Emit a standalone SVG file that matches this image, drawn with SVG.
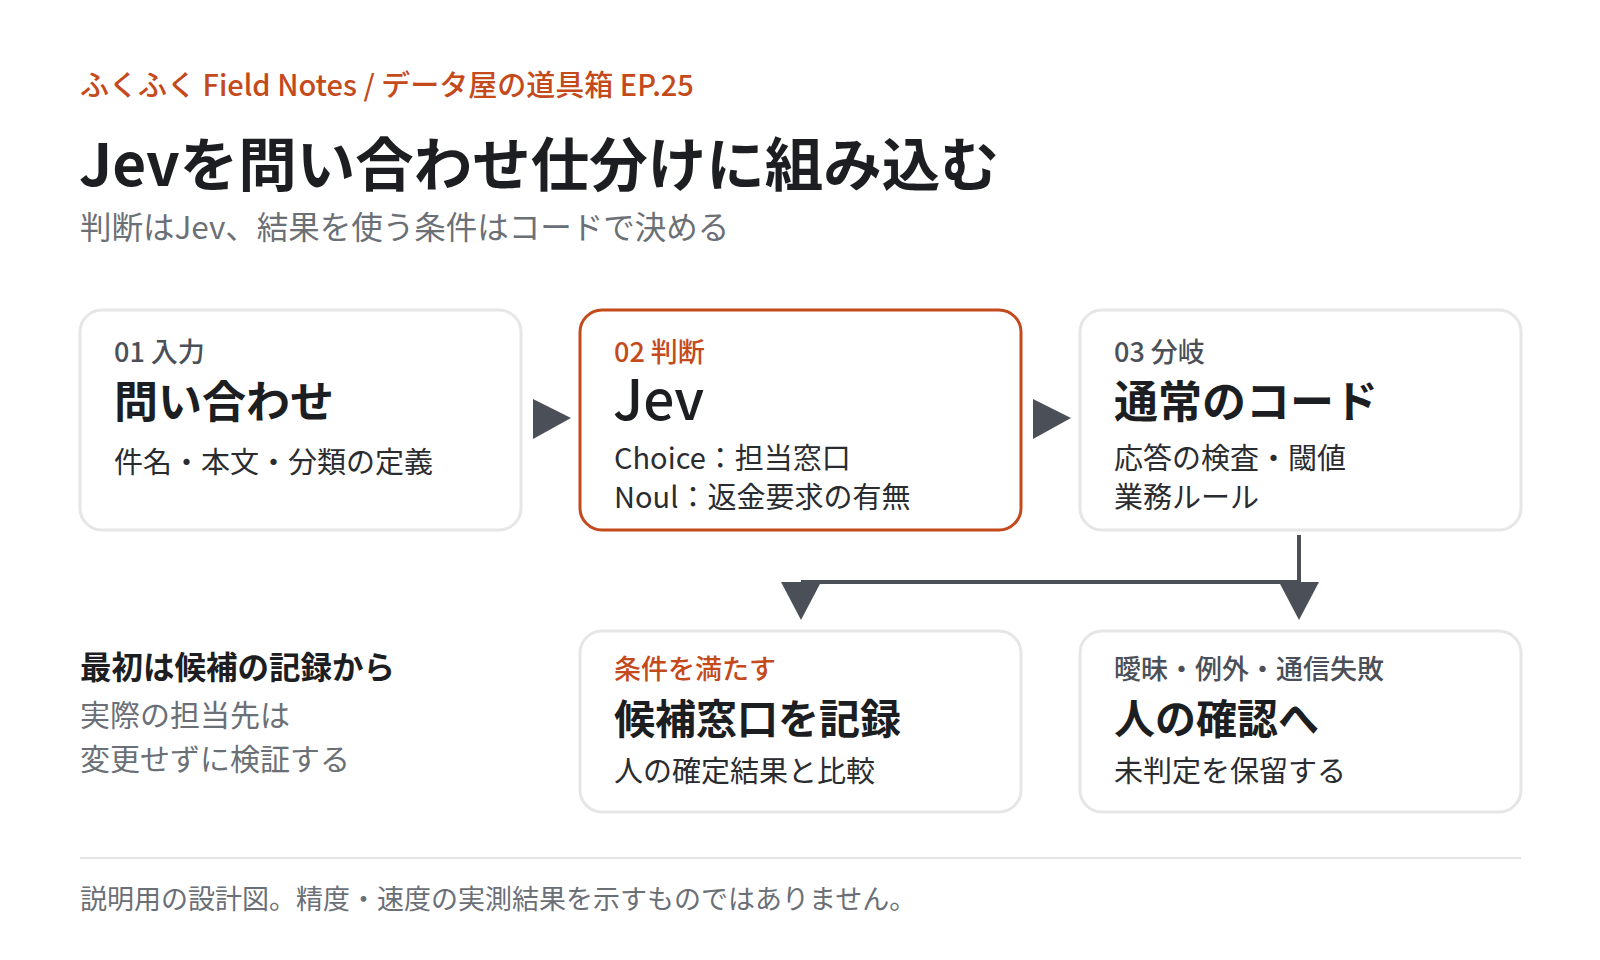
<svg xmlns="http://www.w3.org/2000/svg" width="1600" height="960" viewBox="0 0 1600 960">
<style>
text{font-family:"Noto Sans CJK JP","Noto Sans",sans-serif}
.box{fill:#fff;stroke:#e6e6e6;stroke-width:3}
.hl{fill:#fff;stroke:#c44a1c;stroke-width:3}
.lab{font-size:27px;font-weight:500;fill:#4b5058}
.or{fill:#c44a1c}
.ttl{font-size:44px;font-weight:700;fill:#1c1e21}
.ttl2{font-size:41px;font-weight:700;fill:#1c1e21}
.body{font-size:29px;fill:#2a2c30}
.con{stroke:#4b5058;stroke-width:4;fill:none}
.ah{fill:#4b5058}
</style>
<rect width="1600" height="960" fill="#fff"/>
<text x="80" y="96" font-size="29" font-weight="500" class="or">ふくふく Field Notes / データ屋の道具箱 EP.25</text>
<text x="79" y="186" font-size="58.5" font-weight="700" fill="#1c1e21">Jevを問い合わせ仕分けに組み込む</text>
<text x="80" y="239" font-size="31.5" fill="#6b6f76">判断はJev、結果を使う条件はコードで決める</text>
<g id="connectors">
<polygon class="ah" points="533,399 571,418 533,439"/>
<polygon class="ah" points="1033,399 1071,418 1033,439"/>
<path class="con" d="M1299,535 V582 M801,582 H1299"/>
<polygon class="ah" points="781,582 821,582 801,620"/>
<polygon class="ah" points="1279,582 1319,582 1299,620"/>
</g>
<g id="n1"><rect class="box" x="80" y="310" width="441" height="220" rx="22"/>
<text x="114" y="362" class="lab">01 入力</text>
<text x="114" y="418" class="ttl">問い合わせ</text>
<text x="114" y="473" class="body">件名・本文・分類の定義</text></g>
<g id="n2"><rect class="hl" x="580" y="310" width="441" height="220" rx="22"/>
<text x="614" y="362" class="lab or">02 判断</text>
<text x="613" y="420" font-size="55" font-weight="500" fill="#1c1e21">Jev</text>
<text x="614" y="469" class="body">Choice：担当窓口</text>
<text x="614" y="508" class="body">Noul：返金要求の有無</text></g>
<g id="n3"><rect class="box" x="1080" y="310" width="441" height="220" rx="22"/>
<text x="1114" y="362" class="lab">03 分岐</text>
<text x="1114" y="418" class="ttl">通常のコード</text>
<text x="1114" y="469" class="body">応答の検査・閾値</text>
<text x="1114" y="508" class="body">業務ルール</text></g>
<g id="note">
<text x="80" y="679" font-size="31.5" font-weight="700" fill="#1c1e21">最初は候補の記録から</text>
<text x="80" y="726" font-size="30" fill="#6b6f76">実際の担当先は</text>
<text x="80" y="770" font-size="30" fill="#6b6f76">変更せずに検証する</text></g>
<g id="n4"><rect class="box" x="580" y="631" width="441" height="181" rx="22"/>
<text x="614" y="679" class="lab or">条件を満たす</text>
<text x="614" y="734" class="ttl2">候補窓口を記録</text>
<text x="614" y="782" class="body">人の確定結果と比較</text></g>
<g id="n5"><rect class="box" x="1080" y="631" width="441" height="181" rx="22"/>
<text x="1114" y="679" class="lab">曖昧・例外・通信失敗</text>
<text x="1114" y="734" class="ttl2">人の確認へ</text>
<text x="1114" y="782" class="body">未判定を保留する</text></g>
<line x1="80" y1="858" x2="1521" y2="858" stroke="#e3e3e3" stroke-width="2"/>
<text x="80" y="909" font-size="27" fill="#6b6f76">説明用の設計図。精度・速度の実測結果を示すものではありません。</text>
</svg>
